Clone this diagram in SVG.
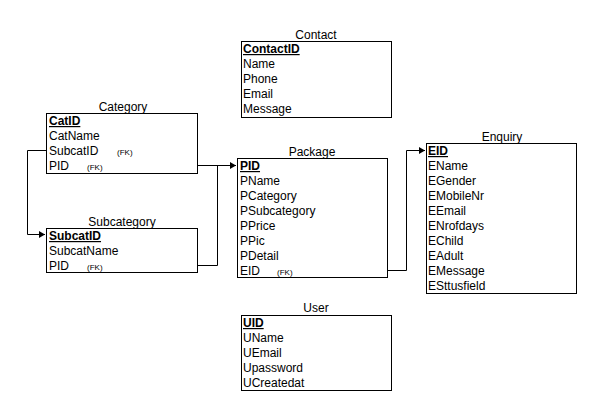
<svg xmlns="http://www.w3.org/2000/svg" width="602" height="416" viewBox="0 0 602 416">
<style>
text{font-family:"Liberation Sans",Arial,sans-serif;font-size:12px;fill:#000}
.t{text-anchor:middle}
.pk{font-weight:bold;text-decoration:underline}
.fk{font-size:8px}
rect.box{fill:#fff;stroke:#000;stroke-width:1}
.c{fill:none;stroke:#000;stroke-width:1}
</style>
<defs>
<marker id="ar" markerWidth="8" markerHeight="8" refX="7" refY="4" orient="auto" markerUnits="userSpaceOnUse">
<path d="M1,0.5 L7,4 L1,7.5 Z" fill="#000"/>
</marker>
</defs>
<rect width="602" height="416" fill="#fff"/>
<g id="connectors">
<path class="c" d="M46.5,150.5 H27.5 V234.5 H45" marker-end="url(#ar)"/>
<path class="c" d="M197.5,165.5 H236" marker-end="url(#ar)"/>
<path class="c" d="M197.5,265.5 H217.5 V165.5"/>
<path class="c" d="M387.5,270.5 H406.5 V150.5 H425" marker-end="url(#ar)"/>
</g>
<g id="contact">
<text class="t" x="316" y="39">Contact</text>
<rect class="box" x="241.5" y="41.5" width="150" height="76"/>
<text class="pk" x="243" y="53">ContactID</text>
<text x="243" y="68">Name</text>
<text x="243" y="83">Phone</text>
<text x="243" y="98">Email</text>
<text x="243" y="113">Message</text>
</g>
<g id="category">
<text class="t" x="123" y="111">Category</text>
<rect class="box" x="46.5" y="113.5" width="151" height="60"/>
<text class="pk" x="49" y="125">CatID</text>
<text x="49" y="140">CatName</text>
<text x="49" y="155">SubcatID</text>
<text class="fk" x="117" y="155">(FK)</text>
<text x="49" y="170">PID</text>
<text class="fk" x="87" y="170">(FK)</text>
</g>
<g id="subcategory">
<text class="t" x="122" y="226">Subcategory</text>
<rect class="box" x="46.5" y="228.5" width="151" height="44"/>
<text class="pk" x="49" y="240">SubcatID</text>
<text x="49" y="255">SubcatName</text>
<text x="49" y="270">PID</text>
<text class="fk" x="87" y="270">(FK)</text>
</g>
<g id="package">
<text class="t" x="312" y="156">Package</text>
<rect class="box" x="237.5" y="158.5" width="150" height="119"/>
<text class="pk" x="240" y="170">PID</text>
<text x="240" y="185">PName</text>
<text x="240" y="200">PCategory</text>
<text x="240" y="215">PSubcategory</text>
<text x="240" y="230">PPrice</text>
<text x="240" y="245">PPic</text>
<text x="240" y="260">PDetail</text>
<text x="240" y="275">EID</text>
<text class="fk" x="277" y="275">(FK)</text>
</g>
<g id="enquiry">
<text class="t" x="502" y="141">Enquiry</text>
<rect class="box" x="426.5" y="143.5" width="150" height="150"/>
<text class="pk" x="428" y="155">EID</text>
<text x="428" y="170">EName</text>
<text x="428" y="185">EGender</text>
<text x="428" y="200">EMobileNr</text>
<text x="428" y="215">EEmail</text>
<text x="428" y="230">ENrofdays</text>
<text x="428" y="245">EChild</text>
<text x="428" y="260">EAdult</text>
<text x="428" y="275">EMessage</text>
<text x="428" y="290">ESttusfield</text>
</g>
<g id="user">
<text class="t" x="316" y="312">User</text>
<rect class="box" x="241.5" y="315.5" width="150" height="75"/>
<text class="pk" x="243" y="327">UID</text>
<text x="243" y="342">UName</text>
<text x="243" y="357">UEmail</text>
<text x="243" y="372">Upassword</text>
<text x="243" y="387">UCreatedat</text>
</g>
</svg>
